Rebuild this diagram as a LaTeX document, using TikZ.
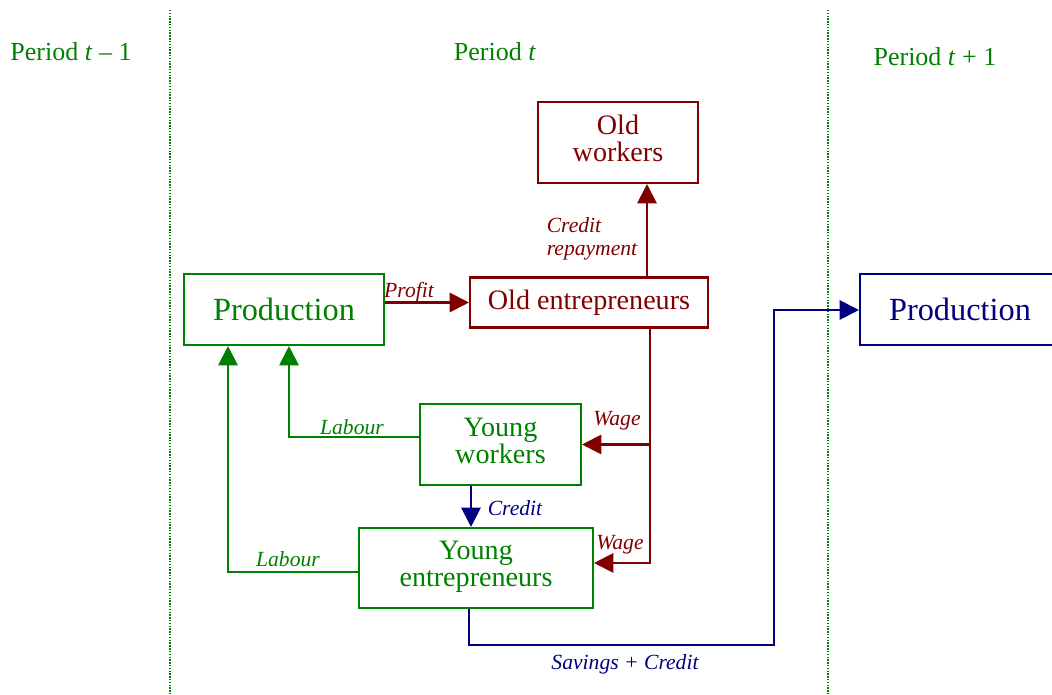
\documentclass[tikz,border=0pt]{standalone}
\usepackage{fontspec}
\setmainfont{Liberation Serif}
\usetikzlibrary{arrows.meta}
\definecolor{pgreen}{RGB}{0,128,0}
\definecolor{pred}{RGB}{128,0,0}
\definecolor{pblue}{RGB}{0,0,128}

\begin{document}
\begin{tikzpicture}[x=0.02cm, y=-0.02cm,
        box/.style = {draw, line width=1.2pt, inner sep=0pt, align=center,
            font=\fontsize{16}{15.2}\selectfont},
        flow/.style = {line width=1.2pt, -{Triangle[length=11pt, width=11pt]}},
        lab/.style = {font=\fontsize{12.3}{12.8}\selectfont\itshape},
        period/.style = {pgreen, font=\fontsize{14.8}{16}\selectfont}]
        \useasboundingbox (0,0) rectangle (1052,695);
        % periods
        \draw [pgreen, line width=1pt, dash pattern=on 0.8pt off 0.8pt] (170,10) -- (170,695);
        \draw [pgreen, line width=1pt, dash pattern=on 0.8pt off 0.8pt] (828,10) -- (828,695);
        \node [period] (pprev) at (71,52) {Period \textit{t} – 1};
        \node [period] (pnow) at (495,52) {Period \textit{t}};
        \node [period] (pnext) at (935,57) {Period \textit{t} + 1};
        % boxes
        \node [box, pred, minimum width=3.2cm, minimum height=1.62cm] (oldwork) at (618,142.5) {Old\\workers\strut};
        \node [box, pgreen, minimum width=4cm, minimum height=1.42cm,
            font=\fontsize{18.4}{20}\selectfont] (prodA) at (284,309.5) {Production};
        \node [box, pred, minimum width=4.76cm, minimum height=1cm] (oldent) at (589,302.5) {Old entrepreneurs};
        \node [box, pblue, minimum width=4cm, minimum height=1.42cm,
            font=\fontsize{18.4}{20}\selectfont] (prodB) at (960,309.5) {Production};
        \node [box, pgreen, minimum width=3.22cm, minimum height=1.62cm] (youngwork) at (500.5,444.5) {Young\\workers\strut};
        \node [box, pgreen, minimum width=4.68cm, minimum height=1.6cm] (youngent) at (476,568) {Young\\entrepreneurs\strut};
        % turning points
        \coordinate (repay) at (647,0);
        \coordinate (wage) at (650,563);
        \coordinate (lab1) at (289,437);
        \coordinate (lab2) at (228,572);
        \coordinate (cred) at (471,0);
        \coordinate (sav1) at (469,645);
        \coordinate (sav2) at (774,310);
        % flows
        \draw [flow, pred] (prodA.east |- oldent.west) -- (oldent.west);
        \draw [flow, pred] (oldent.north -| repay) -- (oldwork.south -| repay);
        \draw [flow, pred] (oldent.south -| wage) -- (wage) -- (youngent.east |- wage);
        \draw [flow, pred] (youngwork.east -| wage) -- (youngwork.east);
        \draw [flow, pgreen] (youngwork.west |- lab1) -- (lab1) -- (prodA.south -| lab1);
        \draw [flow, pgreen] (youngent.west |- lab2) -- (lab2) -- (prodA.south -| lab2);
        \draw [flow, pblue] (youngwork.south -| cred) -- (youngent.north -| cred);
        \draw [flow, pblue] (youngent.south -| sav1) -- (sav1) -| (sav2) -- (prodB.west |- sav2);
        % labels
        \node [lab, pred] (lprofit) at (409,292) {Profit};
        \node [lab, pred, align=left] (lrepay) at (592,239) {Credit\\repayment};
        \node [lab, pred] (lwage1) at (617,421) {Wage};
        \node [lab, pred] (lwage2) at (620,545) {Wage};
        \node [lab, pgreen] (llab1) at (352,427) {Labour};
        \node [lab, pgreen] (llab2) at (288,559) {Labour};
        \node [lab, pblue] (lcred) at (515,508) {Credit};
        \node [lab, pblue] (lsav) at (625,664) {Savings + Credit};
    \end{tikzpicture}
\end{document}
